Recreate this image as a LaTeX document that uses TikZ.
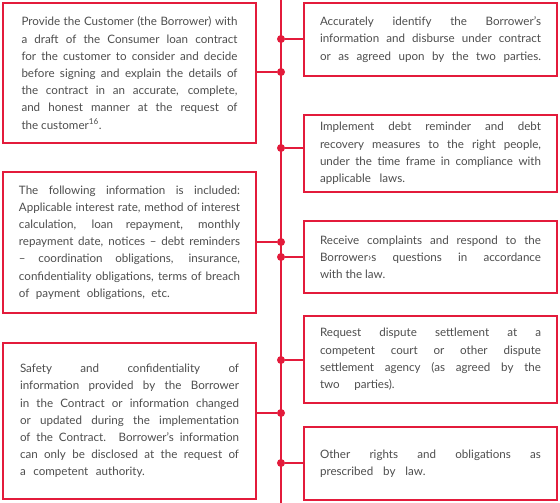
\documentclass[tikz,border=0pt]{standalone}
\usepackage{fontspec}
\setmainfont{Lato}
\definecolor{rd}{HTML}{E31B3B}
\definecolor{tx}{HTML}{4D4D4D}
\tikzset{
  box/.style={draw=rd, line width=1.1pt, text=tx, align=justify, inner sep=0pt,
    font=\fontsize{11.6}{17.2}\selectfont, minimum width=253pt},
  dot/.style={circle, fill=rd, inner sep=0pt, minimum size=8pt},
  conn/.style={draw=rd, line width=1.3pt},
}
\begin{document}
\begin{tikzpicture}[x=1pt,y=-1pt]
\useasboundingbox (0,0) rectangle (560,503);
\hyphenpenalty=10000
% spine
\coordinate (top) at (281,0);
\coordinate (bot) at (281,503);
\draw[conn] (top) -- (bot);
% left boxes
\node[box, text width=216pt, minimum height=140pt] (l1) at (129.5,73) {Provide the Customer (the Borrower) with\linebreak
a draft of the Consumer loan contract\linebreak
for the customer to consider and decide\linebreak
before signing and explain the details of\linebreak
the contract in an accurate, complete,\linebreak
and honest manner at the request of\linebreak
the customer\textsuperscript{16}.};
\node[box, text width=221pt, minimum height=141pt] (l2) at (129.5,242.5) {The following information is included:\linebreak
Applicable interest rate, method of interest\linebreak
calculation, loan repayment, monthly\linebreak
repayment date, notices – debt reminders\linebreak
– coordination obligations, insurance,\linebreak
confidentiality obligations, terms of breach\linebreak
of\hspace{0.3em} payment\hspace{0.3em} obligations,\hspace{0.3em} etc.};
\node[box, text width=219pt, minimum height=156pt] (l3) at (129.5,421) {Safety and confidentiality of\linebreak
information provided by the Borrower\linebreak
in the Contract or information changed\linebreak
or updated during the implementation\linebreak
of the Contract. Borrower’s information\linebreak
can only be disclosed at the request of\linebreak
a\hspace{0.4em} competent\hspace{0.4em} authority.};
% right boxes
\node[box, text width=221pt, minimum height=73pt] (r1) at (430.5,39.5) {Accurately identify the Borrower’s\linebreak
information and disburse under contract\linebreak
or as agreed upon by the two parties.{\parfillskip=0pt\par}};
\node[box, text width=221pt, minimum height=77pt] (r2) at (430.5,153.5) {Implement debt reminder and debt\linebreak
recovery measures to the right people,\linebreak
under the time frame in compliance with\linebreak
applicable\hspace{0.5em} laws.};
\node[box, text width=221pt, minimum height=72pt] (r3) at (430.5,257) {Receive complaints and respond to the\linebreak
Borrower›s questions in accordance\linebreak
with the law.};
\node[box, text width=221pt, minimum height=87pt] (r4) at (430.5,359.5) {Request dispute settlement at a\linebreak
competent court or other dispute\linebreak
settlement agency (as agreed by the\linebreak
two\hspace{1em} parties).};
\node[box, text width=221pt, minimum height=73pt] (r5) at (430.5,463.5) {Other rights and obligations as\linebreak
prescribed\hspace{0.6em} by\hspace{0.6em} law.};
% dots
\node[dot] (d1) at (281,39) {};
\node[dot] (d2) at (281,72) {};
\node[dot] (d3) at (281,148) {};
\node[dot] (d4) at (281,242) {};
\node[dot] (d5) at (281,257) {};
\node[dot] (d6) at (281,360) {};
\node[dot] (d7) at (281,413) {};
\node[dot] (d8) at (281,463) {};
% connectors
\draw[conn] (r1.west |- d1) -- (d1);
\draw[conn] (l1.east |- d2) -- (d2);
\draw[conn] (r2.west |- d3) -- (d3);
\draw[conn] (l2.east |- d4) -- (d4);
\draw[conn] (r3.west |- d5) -- (d5);
\draw[conn] (r4.west |- d6) -- (d6);
\draw[conn] (l3.east |- d7) -- (d7);
\draw[conn] (r5.west |- d8) -- (d8);
\end{tikzpicture}
\end{document}
